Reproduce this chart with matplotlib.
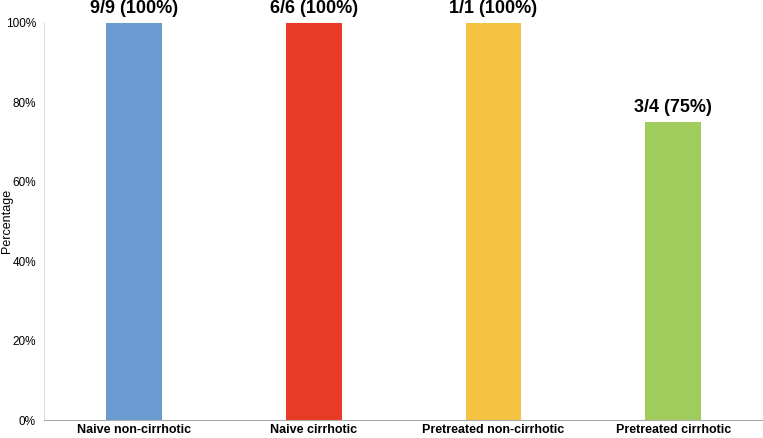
import matplotlib
matplotlib.use("Agg")
import matplotlib.pyplot as plt

plt.rcParams['font.family'] = ['Liberation Sans', 'DejaVu Sans']

categories = ["Naive non-cirrhotic", "Naive cirrhotic", "Pretreated non-cirrhotic", "Pretreated cirrhotic"]
percent = [100, 100, 100, 75]
labels = ["9/9 (100%)", "6/6 (100%)", "1/1 (100%)", "3/4 (75%)"]
colors = ["#6A9BD1", "#E83A25", "#F5C242", "#A0CC5E"]
yticks = [0, 20, 40, 60, 80, 100]

fig = plt.figure(figsize=(7.63, 4.38), dpi=100)
ax = fig.add_axes([0.058, 0.041, 0.942, 0.907])

x = range(len(categories))
ax.bar(x, percent, width=0.31, color=colors)

for xi, p, lab in zip(x, percent, labels):
    ax.text(xi, p + 1.5, lab, ha='center', va='bottom', fontsize=13, fontweight='bold')

ax.set_xlim(-0.5, 3.5)
ax.set_ylim(0, 100)
ax.set_yticks(yticks)
ax.set_yticklabels([f"{t}%" for t in yticks], fontsize=8.5)
ax.set_xticks(list(x))
ax.set_xticklabels(categories, fontsize=9, fontweight='bold')
ax.tick_params(length=0, pad=6)
ax.tick_params(axis='x', pad=3)
ax.set_ylabel("Percentage", fontsize=9)
ax.yaxis.set_label_coords(-0.043, 0.5)

ax.spines['top'].set_visible(False)
ax.spines['right'].set_visible(False)
ax.spines['left'].set_color('#DDDDDD')
ax.spines['bottom'].set_color('#AAAAAA')

fig.savefig("out.png", dpi=100)
